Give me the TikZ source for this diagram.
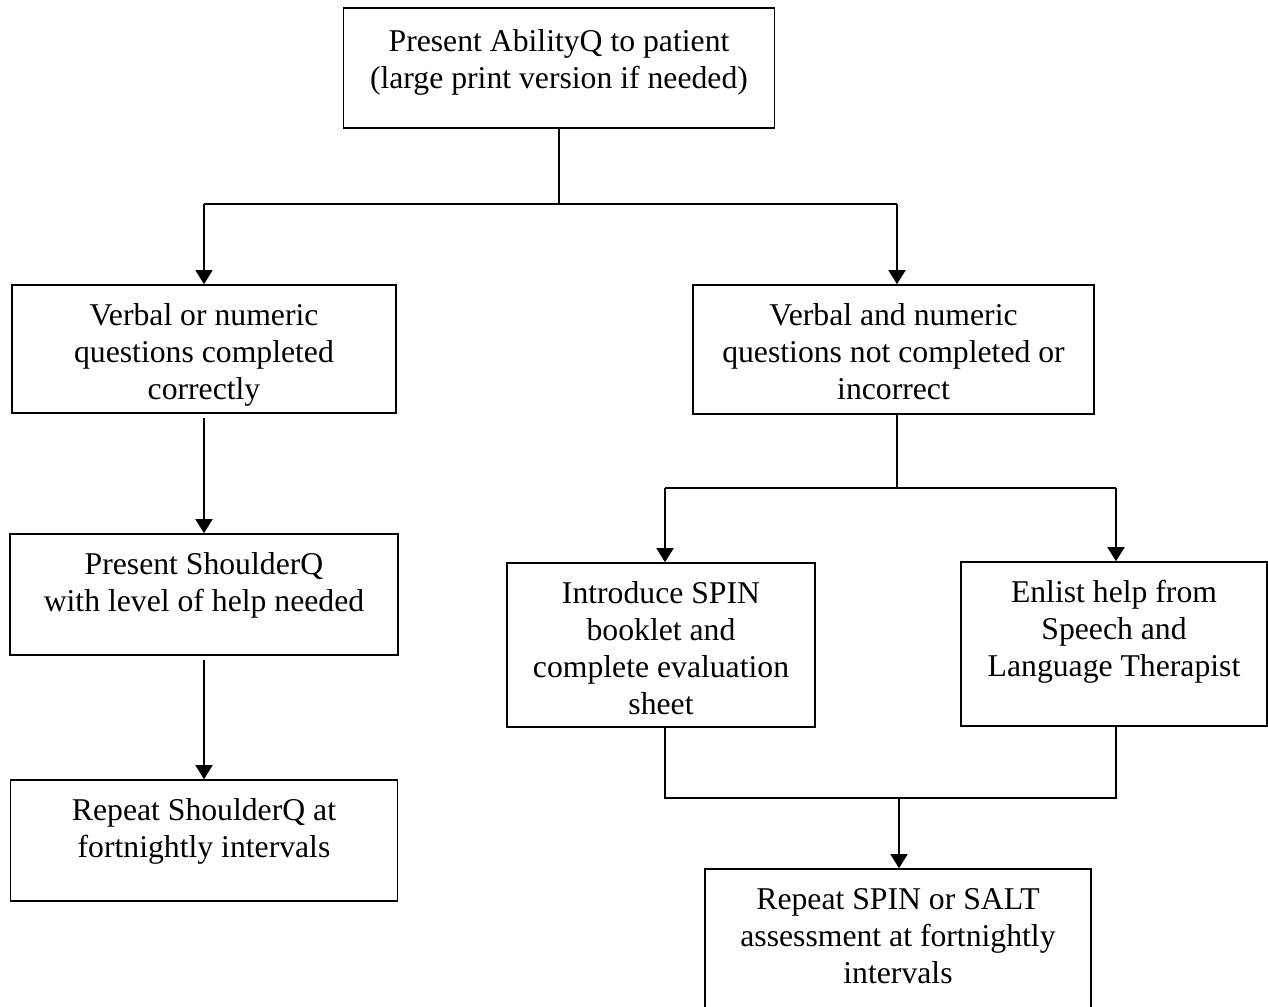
\documentclass[tikz,border=0pt]{standalone}
\usepackage{fontspec}
\setmainfont{Liberation Serif}
\usetikzlibrary{arrows.meta}
\tikzset{
  box/.style={draw=black, line width=0.8pt, rectangle, inner sep=0pt},
  txt/.style={anchor=north, align=center, inner sep=0pt, font=\fontsize{15.85}{18.5}\selectfont},
  conn/.style={draw=black, line width=0.8pt},
  arr/.style={conn, -{Triangle[length=7pt,width=8.5pt]}}
}
\newcommand{\boxtext}[3][0pt]{\node[txt] (#2-t) at ([yshift=-7.55pt+#1]#2.north) {\strut #3};}
\begin{document}
\begin{tikzpicture}[x=0.5pt,y=-0.5pt]
\useasboundingbox (0,0) rectangle (1268,1006);
\clip (0,0) rectangle (1268,1006);
% boxes
\node[box, minimum width=215.5pt, minimum height=60pt] (top) at (559,68) {};
\node[box, minimum width=192pt, minimum height=64pt] (L2) at (204,349) {};
\node[box, minimum width=200.5pt, minimum height=64.5pt] (R2) at (893.5,349.5) {};
\node[box, minimum width=194pt, minimum height=60.5pt] (L3) at (204,594.5) {};
\node[box, minimum width=193.5pt, minimum height=60.5pt] (L4) at (204,840.5) {};
\node[box, minimum width=154pt, minimum height=82pt] (SP) at (661,645) {};
\node[box, minimum width=153pt, minimum height=82pt] (EN) at (1114,644) {};
\node[box, minimum width=193pt, minimum height=75pt] (FI) at (898,944) {};
% texts
\boxtext[-1.5pt]{top}{Present AbilityQ to patient\\(large print version if needed)}
\boxtext{L2}{Verbal or numeric\\questions completed\\correctly}
\boxtext{R2}{Verbal and numeric\\questions not completed or\\incorrect}
\boxtext{L3}{Present ShoulderQ\\with level of help needed}
\boxtext{L4}{Repeat ShoulderQ at\\fortnightly intervals}
\boxtext{SP}{Introduce SPIN\\booklet and\\complete evaluation\\sheet}
\boxtext{EN}{Enlist help from\\Speech and\\Language Therapist}
\boxtext{FI}{Repeat SPIN or SALT\\assessment at fortnightly\\intervals}
% junction coordinates
\coordinate (j1) at (559,204);
\coordinate (jl) at (204,204);
\coordinate (jr) at (897,204);
\coordinate (j2) at (897,488);
\coordinate (jsl) at (665,488);
\coordinate (jsr) at (1116,488);
\coordinate (kl) at (665,798);
\coordinate (kr) at (1116,798);
\coordinate (k) at (899,798);
% connectors
\draw[conn] (top.south) -- (j1);
\draw[conn] (jl) -- (jr);
\draw[arr] (jl) -- (L2.north);
\draw[arr] (jr) -- (jr |- R2.north);
\draw[arr] ([yshift=-2pt]L2.south) -- (L3.north);
\draw[arr] ([yshift=-2pt]L3.south) -- (L4.north);
\draw[conn] (R2.south -| j2) -- (j2);
\draw[conn] (jsl) -- (jsr);
\draw[arr] (jsl) -- (jsl |- SP.north);
\draw[arr] (jsr) -- (jsr |- EN.north);
\draw[conn] (SP.south -| kl) -- (kl) -- (kr) -- (EN.south -| kr);
\draw[arr] (k) -- (k |- FI.north);
\end{tikzpicture}
\end{document}
